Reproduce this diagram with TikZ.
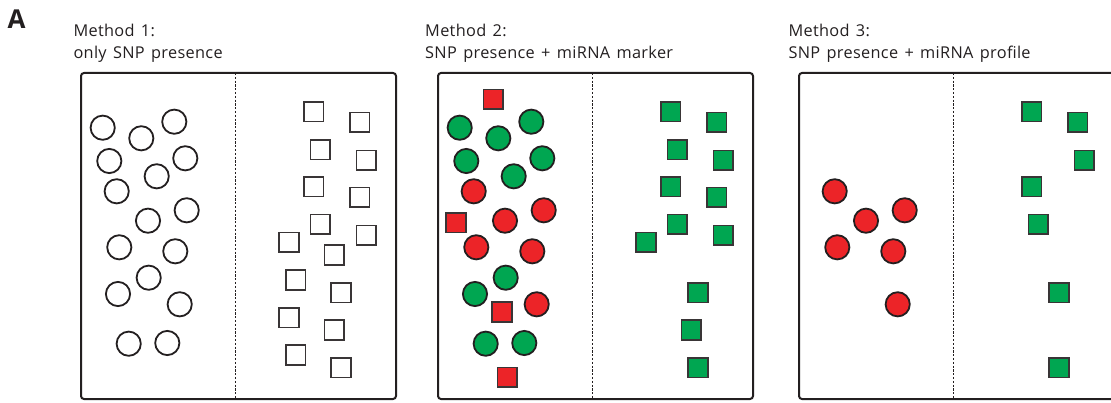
\documentclass[tikz,border=0pt]{standalone}
\usepackage{fontspec}
\setmainfont{Open Sans}[WordSpace=1.4,LetterSpace=2]
\definecolor{snpgreen}{RGB}{0,166,81}
\definecolor{snpred}{RGB}{236,36,40}
\definecolor{ink}{RGB}{35,31,32}

\begin{document}
\begin{tikzpicture}[x=1pt,y=-1pt,
  panel/.style={line width=2pt,rounded corners=3pt,draw=ink},
  divider/.style={line width=0.6pt,draw=ink,dash pattern=on 2.2pt off 1.6pt},
  dot/.style={circle,draw=ink,line width=1.8pt,minimum size=24.2pt,inner sep=0pt,fill=white},
  box/.style={rectangle,draw=ink!90,line width=1.8pt,minimum size=19.6pt,inner sep=0pt,fill=white},
  title/.style={anchor=base west,inner sep=0pt,text=ink,font=\fontsize{16.3}{19}\selectfont}]
  \useasboundingbox (0,0) rectangle (1111,403);

  % panel label
  \node[anchor=base west,inner sep=0pt,text=ink,font=\fontsize{26}{30}\selectfont\bfseries] (lab) at (7.5,29) {A};

  % titles
  \node[title] (t1) at (73.3,36.7) {Method 1:};
  \node[title] (s1) at (73.3,59) {only SNP presence};
  \node[title] (t2) at (425,36.7) {Method 2:};
  \node[title] (s2) at (425,59) {SNP presence + miRNA marker};
  \node[title] (t3) at (788.3,36.7) {Method 3:};
  \node[title] (s3) at (788.3,59) {SNP presence + miRNA profile};

  % frames
  \foreach \dx in {0,357,718}{
    \draw[panel] (81+\dx,73) rectangle (396+\dx,399);
    \draw[divider] (235.3+\dx,73) -- (235.3+\dx,399);
  }

  % method 1
  \foreach \n/\x/\y in {1/102.7/127.7,2/141.3/138.3,3/174.3/121.7,4/109.3/161,
      5/185.3/158.3,6/156.7/176.3,7/116.7/191.3,8/186.7/210.3,9/148/220.7,
      10/119.3/247.3,11/175.3/251.3,12/148.7/277.7,13/118/294,14/179.7/304.3,
      15/128.7/343.7,16/167.3/343}
    \node[dot] (a\n) at (\x,\y) {};
  \foreach \n/\x/\y in {1/313.7/111.7,2/359.7/122.3,3/320.3/149.7,4/366.3/160.3,
      5/313.7/186.7,6/359.7/197.3,7/320.3/224.3,8/366.3/235.3,9/289/242.3,
      10/334.3/255,11/295.7/280,12/341/292.7,13/289/317.7,14/334.3/330,
      15/295.7/355,16/341/367.7}
    \node[box] (q\n) at (\x,\y) {};

  % method 2
  \begin{scope}[xshift=357pt]
    \foreach \n/\x/\y/\c in {1/102.7/127.7/snpgreen,2/141.3/138.3/snpgreen,
        3/174.3/121.7/snpgreen,4/109.3/161/snpgreen,5/185.3/158.3/snpgreen,
        6/156.7/176.3/snpgreen,7/116.7/191.3/snpred,8/186.7/210.3/snpred,
        9/148/220.7/snpred,10/119.3/247.3/snpred,11/175.3/251.3/snpred,
        12/148.7/277.7/snpgreen,13/118/294/snpgreen,14/179.7/304.3/snpred,
        15/128.7/343.7/snpgreen,16/167.3/343/snpgreen}
      \node[dot,fill=\c] (b\n) at (\x,\y) {};
    \foreach \n/\x/\y in {1/136.3/99.3,2/99/222.7,3/145/312,4/150.3/377.3}
      \node[box,fill=snpred] (r\n) at (\x,\y) {};
    \foreach \n/\x/\y in {1/313.7/111.7,2/359.7/122.3,3/320.3/149.7,4/366.3/160.3,
        5/313.7/186.7,6/359.7/197.3,7/320.3/224.3,8/366.3/235.3,9/289/242.3,
        12/341/292.7,14/334.3/330,16/341/367.7}
      \node[box,fill=snpgreen] (g\n) at (\x,\y) {};
  \end{scope}

  % method 3
  \begin{scope}[xshift=718pt]
    \foreach \n/\x/\y in {7/116.7/191.3,8/186.7/210.3,9/148/220.7,
        10/119.3/247.3,11/175.3/251.3,14/179.7/304.3}
      \node[dot,fill=snpred] (c\n) at (\x,\y) {};
    \foreach \n/\x/\y in {1/313.7/111.7,2/359.7/122.3,4/366.3/160.3,
        5/313.7/186.7,7/320.3/224.3,12/341/292.7,16/341/367.7}
      \node[box,fill=snpgreen] (h\n) at (\x,\y) {};
  \end{scope}
\end{tikzpicture}
\end{document}
